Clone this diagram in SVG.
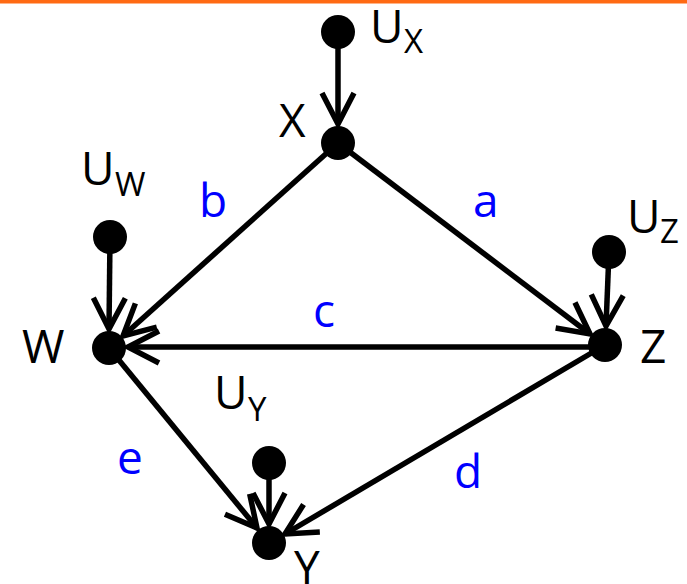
<svg xmlns="http://www.w3.org/2000/svg" width="687" height="584" viewBox="0 0 687 584">
<defs>
<style>
.n{fill:#000}
.e{stroke:#000;stroke-width:5.5;fill:none;marker-end:url(#ah)}
.t{font-family:"Open Sans","Noto Sans",sans-serif;font-size:46px;fill:#000}
.s{font-family:"Open Sans","Noto Sans",sans-serif;font-size:33px;fill:#000}
.l{font-family:"Open Sans","Noto Sans",sans-serif;font-size:46px;fill:#0000ff}
</style>
<marker id="ah" markerUnits="userSpaceOnUse" markerWidth="40" markerHeight="40" viewBox="-36 -20 40 40" refX="0" refY="0" orient="auto" overflow="visible">
<path d="M-31,-16 L0,0 L-31,16" fill="none" stroke="#000" stroke-width="5.5" stroke-linejoin="miter"/>
</marker>
</defs>
<rect x="0" y="0" width="687" height="3.5" fill="#ff6a13"/>
<g id="connectors">
<line class="e" x1="338" y1="32" x2="338" y2="124"/>
<line class="e" x1="338" y1="143" x2="123" y2="336"/>
<line class="e" x1="338" y1="143" x2="590" y2="334"/>
<line class="e" x1="605" y1="347" x2="128" y2="347"/>
<line class="e" x1="110" y1="237" x2="109" y2="329"/>
<line class="e" x1="609" y1="252" x2="606" y2="326"/>
<line class="e" x1="109" y1="348" x2="257" y2="528"/>
<line class="e" x1="605" y1="345" x2="285" y2="534"/>
<line class="e" x1="269" y1="463" x2="269" y2="524"/>
</g>
<g id="UX"><circle class="n" cx="338" cy="32" r="17"/><text class="t" x="370" y="43">U</text><text class="s" x="404" y="53">X</text></g>
<g id="X"><circle class="n" cx="338" cy="143" r="17"/><text class="t" x="279" y="137">X</text></g>
<g id="UW"><circle class="n" cx="110" cy="237" r="17"/><text class="t" x="81" y="185">U</text><text class="s" x="115" y="196">W</text></g>
<g id="W"><circle class="n" cx="109" cy="348" r="17"/><text class="t" x="22" y="363">W</text></g>
<g id="UZ"><circle class="n" cx="609" cy="252" r="17"/><text class="t" x="627" y="233">U</text><text class="s" x="660" y="243">Z</text></g>
<g id="Z"><circle class="n" cx="605" cy="345" r="17"/><text class="t" x="640" y="363">Z</text></g>
<g id="UY"><circle class="n" cx="269" cy="463" r="17"/><text class="t" x="214" y="409">U</text><text class="s" x="248" y="421">Y</text></g>
<g id="Y"><circle class="n" cx="269" cy="543" r="17"/><text class="t" x="294" y="584">Y</text></g>
<g id="labels">
<text class="l" x="199" y="217">b</text>
<text class="l" x="473" y="217">a</text>
<text class="l" x="313" y="327">c</text>
<text class="l" x="117" y="474">e</text>
<text class="l" x="454" y="488">d</text>
</g>
</svg>
